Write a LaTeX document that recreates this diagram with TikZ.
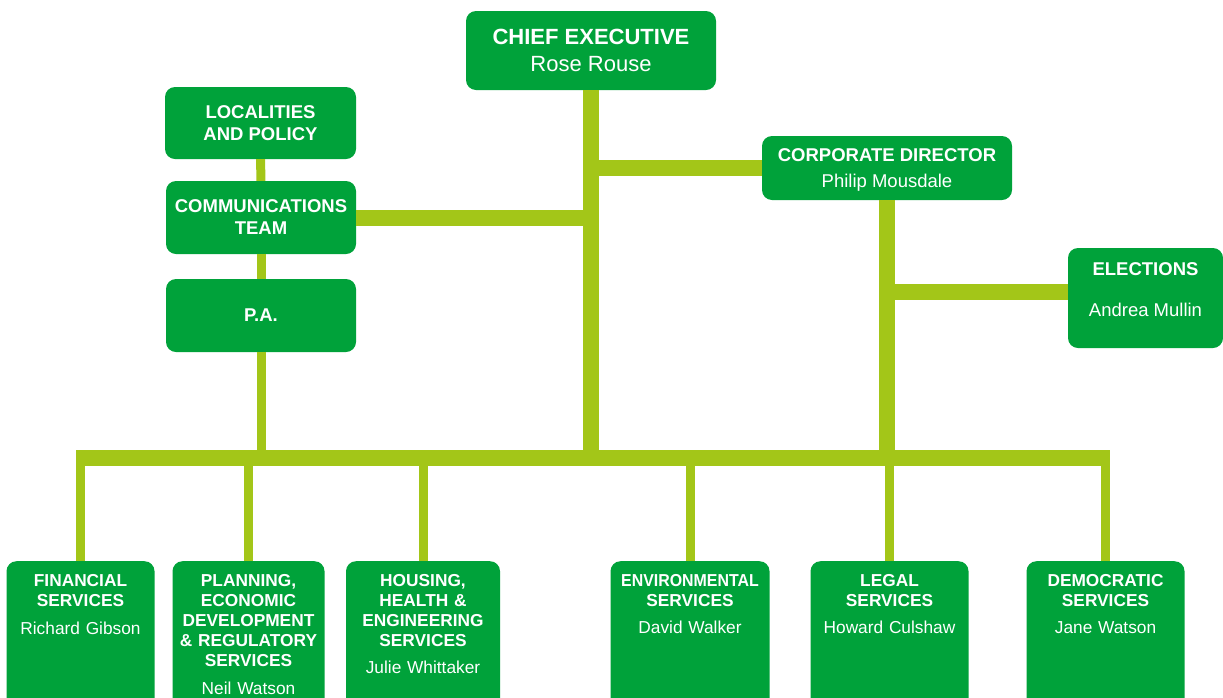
\documentclass[tikz,border=0pt]{standalone}
\usepackage{fontspec}
\usepackage{graphicx}
\setmainfont{Liberation Sans}
\usetikzlibrary{calc}
\definecolor{orggreen}{HTML}{00A23A}
\definecolor{orglime}{HTML}{A3C618}
\newcommand{\who}[1]{{\mdseries #1}}

\begin{document}
\begin{tikzpicture}[
        x=1pt, y=-1pt,
        box/.style={rectangle, rounded corners=10pt, fill=orggreen, text=white, align=center, inner sep=0pt},
        post/.style={box, minimum width=#1, font=\fontsize{18.5}{22}\selectfont\bfseries},
        dept/.style={box, anchor=north, text width=#1, text depth=150pt, inner ysep=13pt, font=\fontsize{17.3}{20}\selectfont\bfseries},
        trunk/.style={orglime, line width=16pt},
        link/.style={orglime, line width=9pt}
    ]
    \path[use as bounding box] (0,0) rectangle (1223,697);
    \clip (0,0) rectangle (1223,697);

    % Top posts
    \node[post=250pt, minimum height=79pt, font=\fontsize{22}{27}\selectfont\bfseries] (ce) at (591,50.5) {CHIEF EXECUTIVE\\\who{Rose Rouse}};
    \node[post=250pt, minimum height=64pt, text depth=0pt] (cd) at (887,168) {CORPORATE DIRECTOR\\[4pt]\who{Philip Mousdale}};
    \node[post=155pt, minimum height=100pt] (elec) at (1145.5,298) {ELECTIONS\\[19pt]\who{Andrea Mullin}\\[-5pt]\mbox{}};
    \node[post=191pt, minimum height=72pt] (loc) at (260.5,123) {LOCALITIES\\AND POLICY};
    \node[post=190pt, minimum height=73pt] (comm) at (261,217.5) {COMMUNICATIONS\\TEAM};
    \node[post=190pt, minimum height=73pt] (pa) at (261,315.5) {P.A.};

    % Departments
    \node[dept=148pt] (fin) at (80.5,561) {FINANCIAL\\SERVICES\\[8pt]\who{Richard Gibson}};
    \node[dept=152pt] (plan) at (248.5,561) {PLANNING,\\ECONOMIC\\DEVELOPMENT\\\& REGULATORY\\SERVICES\\[8pt]\who{Neil Watson}};
    \node[dept=154pt] (hous) at (423,561) {HOUSING,\\HEALTH \&\\ENGINEERING\\SERVICES\\[7pt]\who{Julie Whittaker}};
    \node[dept=159pt] (env) at (690,561) {\scalebox{0.92}[1]{ENVIRONMENTAL}\\SERVICES\\[7pt]\who{David Walker}};
    \node[dept=158pt] (legal) at (889.5,561) {LEGAL\\SERVICES\\[7pt]\who{Howard Culshaw}};
    \node[dept=158pt] (dem) at (1105.5,561) {DEMOCRATIC\\SERVICES\\[7pt]\who{Jane Watson}};

    % Lines
    \coordinate (bus) at (0,458);
    \draw[trunk] ($(fin.north |- bus)+(-4.5,0)$) -- ($(dem.north |- bus)+(4.5,0)$);
    \foreach \d in {fin,plan,hous,env,legal,dem}
        \draw[link] (\d.north |- bus) -- (\d.north);
    \draw[trunk] (ce.south) -- (ce.south |- bus);
    \draw[trunk] (cd.west) -| (ce.south);
    \draw[trunk] (comm.east) -| (ce.south);
    \draw[trunk] (cd.south) -- (cd.south |- bus);
    \draw[trunk] ([yshift=6pt]elec.west) -| (cd.south);
    \draw[link] (loc) -- (comm);
    \draw[link] (comm) -- (pa);
    \draw[link] (pa.south) -- (pa.south |- bus);
\end{tikzpicture}
\end{document}
